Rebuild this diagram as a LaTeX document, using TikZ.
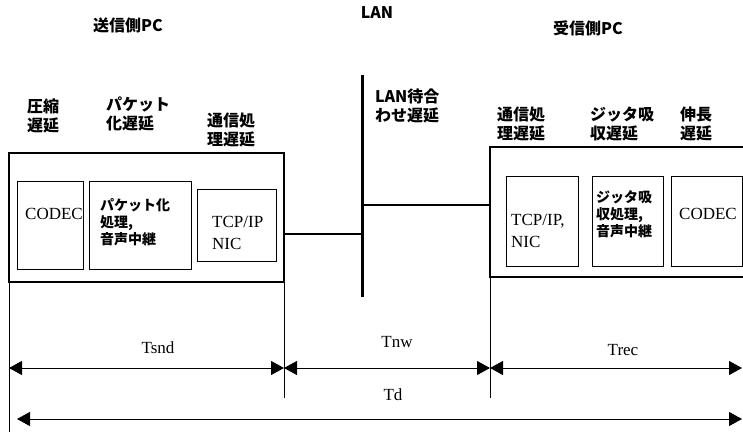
\documentclass[tikz,border=0pt]{standalone}
\usepackage{fontspec}
\setmainfont{Liberation Serif}
\newfontfamily\jp{Noto Sans CJK JP}
\usetikzlibrary{arrows.meta}
\tikzset{
  outerbox/.style={draw, line width=2pt, anchor=north west, inner sep=0pt, outer sep=0pt},
  innerbox/.style={draw, line width=0.9pt, anchor=north west, inner sep=0pt, outer sep=0pt},
  title/.style={font={\jp\bfseries\fontsize{16}{19}\selectfont}, inner sep=0pt},
  head/.style={font={\jp\bfseries\fontsize{16}{19}\selectfont}, align=left, anchor=west, inner sep=0pt},
  jin/.style={font={\jp\bfseries\fontsize{14}{17}\selectfont}, align=left, anchor=west, inner sep=0pt},
  rin/.style={font={\fontsize{17}{22}\selectfont}, align=left, inner sep=0pt},
  conn/.style={line width=2pt},
  lanline/.style={line width=3pt},
  ext/.style={line width=0.8pt},
  dim/.style={line width=1pt, {Triangle[length=13pt,width=14pt]}-{Triangle[length=13pt,width=14pt]}},
  dimlabel/.style={font={\fontsize{17}{20}\selectfont}, inner sep=0pt}
}
\begin{document}
\begin{tikzpicture}[x=1pt, y=-1pt]
\clip (0,0) rectangle (743,435);
\fill[white] (0,0) rectangle (743,435);

% titles
\node[title] (tsnd) at (128,25) {送信側PC};
\node[title] (tlan) at (377,13) {LAN};
\node[title] (trec) at (588,28) {受信側PC};

% delay headings
\node[head] (h1) at (27,116) {圧縮\\遅延};
\node[head] (h2) at (106,114) {パケット\\化遅延};
\node[head] (h3) at (207,130) {通信処\\理遅延};
\node[head] (h4) at (375,106) {LAN待合\\わせ遅延};
\node[head] (h5) at (497,124) {通信処\\理遅延};
\node[head] (h6) at (590,124) {ジッタ吸\\収遅延};
\node[head] (h7) at (680,124) {伸長\\遅延};

% sender PC
\node[outerbox, minimum width=275pt, minimum height=129pt] (sbox) at (9,153) {};
\node[innerbox, minimum width=66pt, minimum height=88pt] (scodec) at (17,181) {};
\node[innerbox, minimum width=102pt, minimum height=88pt] (spkt) at (89,181) {};
\node[innerbox, minimum width=79pt, minimum height=72pt] (stcp) at (197,189) {};
\node[rin] (scodect) at (54,214) {CODEC};
\node[jin] (spktt) at (100,222) {パケット化\\処理,\\音声中継};
\node[rin, anchor=west] (stcpt) at (212,233) {TCP/IP\\NIC};

% receiver PC
\node[outerbox, minimum width=280pt, minimum height=130pt] (rbox) at (490,147) {};
\node[innerbox, minimum width=72pt, minimum height=90pt] (rtcp) at (506,176) {};
\node[innerbox, minimum width=71pt, minimum height=90pt] (rjit) at (592,176) {};
\node[innerbox, minimum width=71pt, minimum height=90pt] (rcodec) at (671,176) {};
\node[rin, anchor=west] (rtcpt) at (511,231) {TCP/IP,\\NIC};
\node[jin] (rjitt) at (596,214) {ジッタ吸\\収処理,\\音声中継};
\node[rin] (rcodect) at (708,214) {CODEC};

% LAN
\coordinate (lantop) at (362,75);
\coordinate (lanbot) at (362,297);
\draw[lanline] (lantop) -- (lanbot);
\coordinate (lanL) at (362,234);
\coordinate (lanR) at (362,205);
\draw[conn] (sbox.east |- lanL) -- (lanL);
\draw[conn] (lanR) -- (rbox.west |- lanR);

% extension lines
\coordinate (e1) at (9,432);
\coordinate (e2) at (284,398);
\coordinate (e3) at (490,398);
\draw[ext] (sbox.south west) -- (sbox.south west |- e1);
\draw[ext] (sbox.south east) -- (sbox.south east |- e2);
\draw[ext] (rbox.south west) -- (rbox.south west |- e3);

% dimension arrows
\coordinate (a0) at (9,368);
\coordinate (a1) at (284,368);
\coordinate (a2) at (490,368);
\coordinate (a3) at (742,368);
\coordinate (d0) at (17,419);
\coordinate (d1) at (742,419);
\draw[dim] (a0) -- (a1);
\draw[dim] (a1) -- (a2);
\draw[dim] (a2) -- (a3);
\draw[dim] (d0) -- (d1);
\node[dimlabel] (ltsnd) at (158,348) {Tsnd};
\node[dimlabel] (ltnw) at (397,342) {Tnw};
\node[dimlabel] (ltrec) at (623,350) {Trec};
\node[dimlabel] (ltd) at (393,395) {Td};
\end{tikzpicture}
\end{document}
